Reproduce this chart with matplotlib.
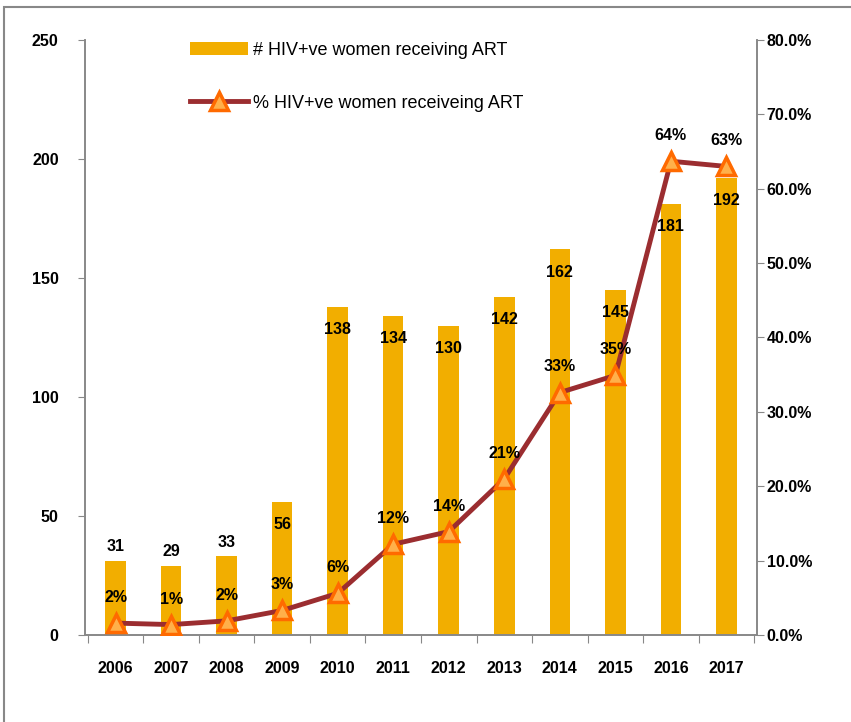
import matplotlib
matplotlib.use("Agg")
from matplotlib import pyplot as plt
from matplotlib.patches import Rectangle
import numpy as np

years = ["2006", "2007", "2008", "2009", "2010", "2011",
         "2012", "2013", "2014", "2015", "2016", "2017"]
women_on_art = [31, 29, 33, 56, 138, 134, 130, 142, 162, 145, 181, 192]
pct_on_art = [1.6, 1.4, 1.9, 3.3, 5.6, 12.2, 13.9, 21.0, 32.6, 34.9, 63.7, 63.0]

bar_label = "# HIV+ve women receiving ART"
line_label = "% HIV+ve women receiveing ART"

plt.rcParams['font.family'] = ['Liberation Sans', 'DejaVu Sans']

fig = plt.figure(figsize=(8.51, 7.22), dpi=100)
ax = fig.add_axes([0.0999, 0.1205, 0.7896, 0.8241])
ax2 = ax.twinx()

x = np.arange(len(years))
bars = ax.bar(x, women_on_art, width=0.37, color='#F2AE00', label=bar_label, zorder=2)
ax.set_ylim(0, 250)
ax.set_yticks(range(0, 251, 50))
ax.set_xlim(-0.55, len(years) - 0.45)

# bar value labels: above for the short bars, inside the top otherwise
for xi, v in zip(x, women_on_art):
    if v < 40:
        ax.annotate(str(v), (xi, v), xytext=(0, 5), textcoords='offset points',
                    ha='center', va='bottom', fontsize=11.5, fontweight='bold')
    else:
        ax.annotate(str(v), (xi, v), xytext=(0, -11), textcoords='offset points',
                    ha='center', va='top', fontsize=11.5, fontweight='bold')

line, = ax2.plot(x, pct_on_art, color='#9B2D30', lw=3.5, marker='^', ms=13,
                 mfc='#FFB04A', mec='#FF6A00', mew=2.5, label=line_label, zorder=3)
ax2.set_ylim(0, 80)
ax2.set_yticks(np.arange(0, 81, 10))
ax2.set_yticklabels(["%.1f%%" % t for t in np.arange(0, 81, 10)])
for xi, p in zip(x, pct_on_art):
    ax2.annotate("%.0f%%" % p, (xi, p), xytext=(0, 13), textcoords='offset points',
                 ha='center', va='bottom', fontsize=11.5, fontweight='bold')

# axes styling
for a in (ax, ax2):
    a.spines['top'].set_visible(False)
    for s in ('left', 'right', 'bottom'):
        a.spines[s].set_color('#888888')
        a.spines[s].set_linewidth(1.2)
ax.set_xticks(np.arange(-0.5, len(years), 1.0), minor=False)
ax.set_xticklabels([])
ax.set_xticks(x, minor=True)
ax.set_xticklabels(years, minor=True, fontsize=11.5, fontweight='bold')
ax.tick_params(axis='x', which='major', length=6, color='#888888', direction='out')
ax.tick_params(axis='x', which='minor', length=0, pad=19)
ax.tick_params(axis='y', length=5, color='#888888', labelsize=11.5, pad=14)
ax2.tick_params(axis='y', length=5, color='#888888', labelsize=11.5, pad=2)
for t in ax.get_yticklabels() + ax2.get_yticklabels():
    t.set_fontweight('bold')

fig.legend([bars, line], [bar_label, line_label], loc='upper left',
           bbox_to_anchor=(0.204, 0.965), frameon=False, fontsize=13,
           labelspacing=2.0, handlelength=3.2, handletextpad=0.3)

fig.patches.append(Rectangle((0.005, -0.05), 1.2, 1.04, transform=fig.transFigure,
                             fill=False, edgecolor='#888888', lw=1.5))

fig.savefig("out.png", dpi=100)
